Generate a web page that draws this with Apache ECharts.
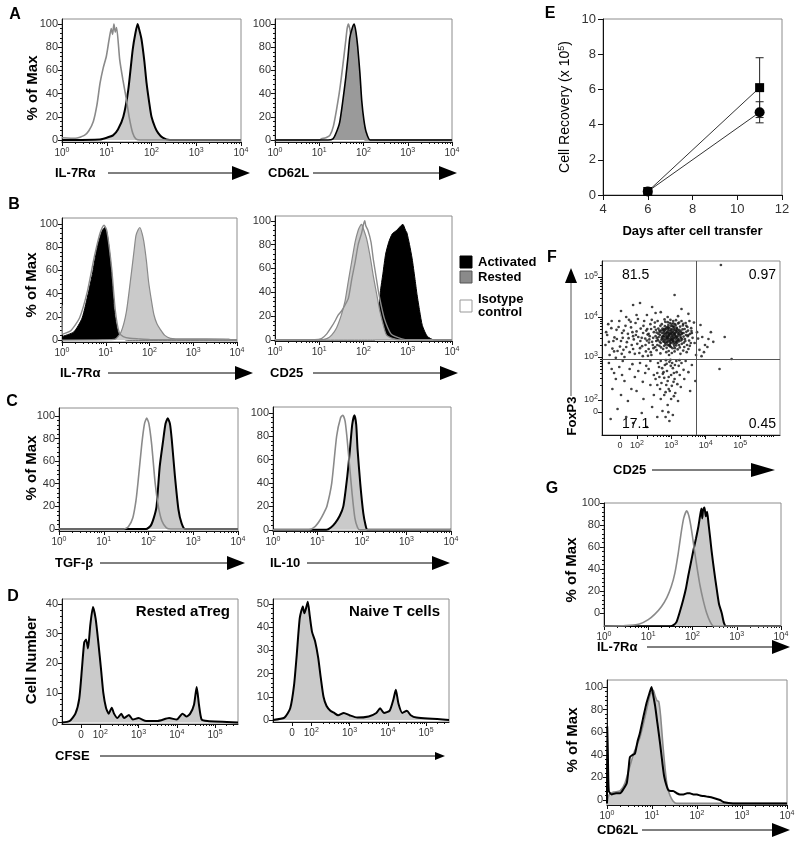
<!DOCTYPE html>
<html><head><meta charset="utf-8">
<script src="https://cdn.jsdelivr.net/npm/echarts@6/dist/echarts.min.js"></script>
<style>html,body{margin:0;padding:0;background:#fff}#c{width:800px;height:848px}</style>
</head><body><div id="c"></div>
<script>
// ================= DATA =================
// histogram x values are log10 of fluorescence (decades), y is % of Max
const histXTickVals = [0, 1, 2, 3, 4];
const histXTickText = ['10^0', '10^1', '10^2', '10^3', '10^4'];
const pctTickVals = [0, 20, 40, 60, 80, 100];

// Panel A
const A_IL7R_gray = [[0,2],[0.3,1.5],[0.5,4],[0.6,8],[0.7,16],[0.78,30],[0.85,49],[0.92,62],[0.99,72],[1.05,86],[1.1,96],[1.13,91],[1.16,100],[1.19,93],[1.22,97],[1.29,69],[1.36,52],[1.43,37],[1.5,20],[1.58,6],[1.65,1],[1.75,0],[4,0]];
const A_IL7R_black = [[0,0],[0.85,0.5],[1.0,2],[1.14,4],[1.25,9],[1.37,20],[1.48,43],[1.58,78],[1.64,92],[1.69,100],[1.74,93],[1.78,86],[1.84,68],[1.89,49],[1.95,32],[2.0,20],[2.08,11],[2.15,6],[2.25,2],[2.41,0],[4,0]];
const A_CD62L_gray = [[0,0],[1.0,0],[1.05,1],[1.15,2],[1.24,4],[1.32,12],[1.39,26],[1.45,40],[1.5,54],[1.56,73],[1.6,86],[1.63,96],[1.66,100],[1.69,96],[1.71,91],[1.76,80],[1.81,63],[1.86,44],[1.9,26],[1.96,7],[2.04,0],[4,0]];
const A_CD62L_fill = [[0,0],[1.2,0],[1.31,1],[1.38,6],[1.46,15],[1.53,33],[1.6,54],[1.65,72],[1.69,88],[1.75,97],[1.79,100],[1.83,93],[1.87,80],[1.92,57],[1.96,34],[2.01,17],[2.06,7],[2.15,0],[4,0]];

// Panel B
const B_IL7R_act = [[0,3],[0.27,7],[0.46,19],[0.61,42],[0.7,58],[0.76,71],[0.82,82],[0.88,90],[0.93,95],[0.98,97],[1.03,92],[1.08,78],[1.13,59],[1.2,24],[1.28,7],[1.39,1],[1.5,0],[4,0]];
const B_IL7R_iso = [[0,30],[0.01,5],[0.2,8],[0.4,19],[0.58,42],[0.74,72],[0.86,91],[0.92,97],[0.96,99],[1.02,95],[1.08,80],[1.14,60],[1.22,25],[1.31,6],[1.4,3],[1.55,1.5],[1.75,1],[2,0.5],[4,0]];
const B_IL7R_rest = [[0,0],[1.2,0.5],[1.35,7],[1.47,24],[1.58,56],[1.65,78],[1.69,90],[1.74,95],[1.78,97],[1.83,92],[1.87,85],[1.93,68],[1.98,50],[2.04,35],[2.1,22],[2.17,14],[2.25,9],[2.35,4],[2.48,1.5],[2.8,1],[3.3,1],[3.81,0.8],[3.9,0],[4,0]];
const B_CD25_act = [[0,0],[2.25,0],[2.3,6],[2.35,25],[2.38,40],[2.44,56],[2.5,72],[2.57,82],[2.65,89],[2.75,92],[2.85,96],[2.89,97],[2.95,92],[2.98,90],[3.04,80],[3.1,68],[3.16,52],[3.21,38],[3.27,24],[3.33,12],[3.44,3],[3.59,0],[4,0]];
const B_CD25_rest = [[0,0],[1.05,0],[1.17,1],[1.28,4],[1.39,10],[1.5,21],[1.58,32],[1.66,50],[1.73,65],[1.81,82],[1.88,92],[1.93,96],[1.96,97],[2.0,93],[2.07,85],[2.15,70],[2.22,54],[2.3,38],[2.37,24],[2.45,12],[2.52,4],[2.67,1],[2.8,0],[4,0]];
const B_CD25_iso = [[0,0],[0.9,0],[1.05,1],[1.17,5],[1.28,11],[1.36,16],[1.43,21],[1.5,24],[1.58,29],[1.66,35],[1.74,52],[1.81,65],[1.88,80],[1.96,90],[2.0,97],[2.03,100],[2.05,96],[2.1,92],[2.17,82],[2.22,68],[2.28,54],[2.34,40],[2.4,29],[2.47,18],[2.55,10],[2.62,5],[2.7,3],[2.85,1],[3.0,0],[4,0]];
const B_legend = ['Activated', 'Rested', 'Isotype\ncontrol'];

// Panel C
const C_TGFb_gray = [[0,0],[1.45,0],[1.55,2],[1.65,10],[1.72,25],[1.77,43],[1.85,75],[1.91,93],[1.96,98],[2.01,93],[2.07,75],[2.15,40],[2.22,20],[2.3,7],[2.4,1],[2.5,0],[4,0]];
const C_TGFb_black = [[0,0],[1.95,0],[2.05,3],[2.12,10],[2.18,20],[2.25,55],[2.33,79],[2.38,93],[2.43,98],[2.48,93],[2.52,79],[2.59,47],[2.67,17],[2.74,5],[2.82,0],[4,0]];
const C_IL10_gray = [[0,0],[0.8,0],[0.95,3],[1.05,8],[1.15,15],[1.21,20],[1.32,40],[1.43,80],[1.52,96],[1.57,98],[1.62,93],[1.66,80],[1.72,55],[1.78,30],[1.84,10],[1.9,2],[1.95,0],[4,0]];
const C_IL10_black = [[0,0],[1.2,0],[1.3,2],[1.4,6],[1.5,12],[1.58,20],[1.67,46],[1.73,69],[1.78,90],[1.83,98],[1.87,90],[1.9,69],[1.96,40],[2.03,14],[2.08,4],[2.12,0],[4,0]];

// Panel D (CFSE, biexponential display units: 10^n -> n)
const D_xTickVals = [1.5, 2, 3, 4, 5];
const D_xTickText = ['0', '10^2', '10^3', '10^4', '10^5'];
const D_titles = ['Rested aTreg', 'Naive T cells'];
const D_aTreg = [[1.0,0],[1.2,0.5],[1.35,3],[1.45,8],[1.52,18],[1.58,27],[1.63,28],[1.68,25],[1.74,33],[1.81,39],[1.88,35],[1.95,27],[2.02,18],[2.08,10],[2.15,5],[2.22,3],[2.3,5],[2.36,3],[2.45,1.5],[2.55,3],[2.62,1.5],[2.75,2.5],[2.85,1],[3.0,1.5],[3.2,0.5],[3.5,0.5],[3.8,1.5],[4.0,1],[4.15,3],[4.25,2],[4.35,3],[4.45,6],[4.52,12],[4.58,6],[4.65,1],[4.8,0.5],[5.6,0]];
const D_naive = [[1.0,0],[1.3,1],[1.45,5],[1.55,15],[1.62,28],[1.7,44],[1.78,49],[1.82,46],[1.86,48],[1.91,51],[1.96,45],[2.02,38],[2.1,34],[2.18,27],[2.25,18],[2.32,10],[2.4,6],[2.5,4],[2.6,3],[2.7,2],[2.85,3],[3.0,2],[3.2,1],[3.5,1.5],[3.7,3],[3.8,5],[3.9,3],[4.05,4],[4.15,9],[4.21,13],[4.28,7],[4.38,3],[4.5,4],[4.6,2],[4.75,1],[5.6,0]];

// Panel E
const E_days = [6, 11];
const E_square = [0.2, 6.1];
const E_squareErr = [0, 1.7];
const E_circle = [0.2, 4.7];
const E_circleErr = [0, 0.6];

// Panel F (biexponential display units)
const F_xTickVals = [1.52, 2.01, 3, 4, 5];
const F_yTickVals = [1.63, 1.93, 3, 4, 5];
const F_tickText = ['0', '10^2', '10^3', '10^4', '10^5'];
const F_gateX = 3.72;
const F_gateY = 2.95;
const F_quadrants = ['81.5', '0.97', '17.1', '0.45'];
const F_points = [
[2.95,3.52],[3.02,3.61],[2.88,3.44],[3.11,3.55],[2.79,3.58],[2.91,3.69],[3.05,3.38],[2.84,3.31],[3.18,3.47],[2.97,3.27],[3.09,3.74],[2.73,3.49],[3.24,3.62],[2.66,3.66],[3.01,3.83],[2.93,3.15],[3.15,3.29],[2.82,3.77],[3.28,3.41],[2.71,3.24],
[2.99,3.46],[3.07,3.66],[2.86,3.53],[3.13,3.79],[2.77,3.39],[3.21,3.53],[2.9,3.61],[3.04,3.22],[2.68,3.55],[3.33,3.69],[2.95,3.72],[3.16,3.4],[2.81,3.66],[3.08,3.48],[2.62,3.42],[3.36,3.51],[2.89,3.36],[3.0,3.57],[2.75,3.71],[3.19,3.67],
[3.03,3.44],[2.92,3.8],[3.12,3.34],[2.85,3.47],[3.26,3.76],[2.7,3.35],[3.1,3.58],[2.96,3.4],[3.4,3.45],[2.58,3.61],[2.83,3.88],[3.23,3.3],[2.94,3.29],[3.06,3.9],[2.74,3.6],[3.31,3.58],[2.87,3.23],[3.14,3.64],[2.64,3.5],[3.44,3.63],
[2.98,3.65],[3.17,3.71],[2.8,3.51],[3.0,3.35],[2.69,3.78],[3.29,3.47],[2.91,3.49],[3.09,3.28],[2.78,3.45],[3.37,3.36],[2.6,3.3],[3.2,3.84],[2.86,3.72],[3.05,3.51],[2.72,3.43],[3.48,3.52],[2.93,3.59],[3.13,3.45],[2.55,3.52],[3.34,3.79],
[3.02,3.7],[2.9,3.3],[3.22,3.39],[2.76,3.67],[3.07,3.6],[2.96,3.85],[3.15,3.52],[2.63,3.71],[3.39,3.7],[2.84,3.57],[3.11,3.22],[2.67,3.62],[3.27,3.55],[2.99,3.25],[3.52,3.41],[2.8,3.28],[3.04,3.77],[2.57,3.4],[3.25,3.24],[2.92,3.74],
[3.55,3.58],[3.46,3.3],[3.58,3.72],[3.42,3.85],[3.5,3.2],[3.62,3.48],[3.35,3.16],[3.6,3.6],[3.47,3.75],[3.3,3.9],[2.52,3.75],[2.48,3.48],[2.54,3.25],[2.5,3.62],[2.45,3.38],
[2.94,3.55],[3.06,3.45],[2.88,3.63],[3.12,3.6],[3.0,3.68],[2.82,3.42],[3.16,3.5],[2.97,3.36],[3.09,3.7],[2.85,3.6],[3.2,3.58],[2.9,3.47],[3.03,3.54],[2.78,3.52],[3.14,3.38],[2.99,3.78],[3.24,3.68],[2.87,3.38],[3.07,3.33],[2.93,3.66],
[3.01,3.49],[2.8,3.7],[3.18,3.62],[2.96,3.31],[3.11,3.82],[2.74,3.46],[3.27,3.5],[2.89,3.75],[3.04,3.41],[3.22,3.44],[2.91,3.54],[3.13,3.67],[2.83,3.35],[3.08,3.56],[2.98,3.6],[3.17,3.35],[2.79,3.63],[3.32,3.6],[2.95,3.44],[3.06,3.76],
[2.35,3.58],[2.42,3.7],[2.47,3.3],[2.53,3.86],[2.58,3.17],[2.61,3.9],[2.66,3.28],[2.69,3.09],[2.73,3.82],[2.77,3.2],[2.81,3.94],[2.86,3.12],[2.9,3.87],[2.94,3.05],[2.98,3.93],[3.02,3.1],[3.06,3.84],[3.1,3.14],[3.14,3.92],[3.19,3.19],
[3.23,3.86],[3.27,3.08],[3.31,3.33],[3.35,3.83],[3.38,3.25],[3.43,3.55],[3.45,3.12],[3.49,3.66],[3.53,3.9],[3.57,3.35],[2.37,3.44],[2.41,3.12],[2.44,3.93],[2.49,3.22],[2.56,3.68],[2.59,3.47],[2.63,3.58],[2.67,3.38],[2.71,3.66],[2.76,3.52],
[2.8,3.38],[2.84,3.69],[2.88,3.5],[2.92,3.4],[2.96,3.58],[3.0,3.42],[3.04,3.63],[3.08,3.39],[3.12,3.5],[3.16,3.73],[3.2,3.42],[3.24,3.57],[3.28,3.64],[3.32,3.44],[3.36,3.6],[3.41,3.4],[3.44,3.78],[3.5,3.55],[3.54,3.28],[3.59,3.65],
[1.15,3.55],[1.3,3.21],[1.42,3.68],[1.55,3.4],[1.68,3.78],[1.8,3.12],[1.9,3.52],[2.02,3.33],[2.12,3.71],[2.25,3.46],[2.35,3.2],[2.4,3.82],[1.22,3.05],[1.36,3.49],[1.5,3.9],[1.62,3.18],[1.75,3.58],[1.86,3.3],[1.97,3.85],[2.08,3.1],
[2.19,3.6],[2.3,3.41],[2.43,3.05],[1.1,3.3],[1.27,3.72],[1.45,3.15],[1.58,3.6],[1.72,3.37],[1.84,3.74],[1.95,3.08],[2.05,3.5],[2.16,3.27],[2.28,3.66],[2.38,3.52],[1.18,3.82],[1.33,3.4],[1.65,3.0],[1.78,3.93],[2.0,3.64],[2.22,3.9],
[2.33,3.03],[1.4,2.98],[1.92,3.44],[2.11,3.4],[2.27,3.14],[1.52,3.26],[1.6,3.48],[2.18,3.02],[2.32,3.56],[1.88,3.62],
[1.12,3.62],[1.2,3.38],[1.28,3.9],[1.35,3.14],[1.43,3.45],[1.48,3.75],[1.57,3.08],[1.63,3.66],[1.7,3.25],[1.77,3.47],[1.83,3.88],[1.9,3.2],[1.98,3.55],[2.04,3.95],[2.1,3.22],[2.15,3.48],[2.2,3.78],[2.26,3.3],[2.31,3.7],[2.36,3.36],
[3.68,3.35],[3.75,3.62],[3.82,3.18],[3.9,3.5],[3.98,3.3],[4.08,3.45],[3.72,3.05],[3.85,3.8],[4.15,3.62],[3.95,3.12],[3.66,3.86],[4.05,3.25],[3.78,3.46],[4.22,3.38],[3.88,3.02],
[2.7,2.9],[2.82,2.8],[2.95,2.88],[3.05,2.72],[3.15,2.9],[2.88,2.65],[3.0,2.55],[2.76,2.58],[3.1,2.45],[2.9,2.4],[3.22,2.78],[2.65,2.75],[2.98,2.93],[3.3,2.85],[2.8,2.48],[3.08,2.6],[2.72,2.35],[3.18,2.32],[2.93,2.2],[3.25,2.55],
[2.6,2.6],[2.85,2.92],[3.03,2.85],[3.36,2.68],[2.68,2.2],[3.12,2.1],[2.8,2.05],[3.0,1.95],[2.9,1.8],[3.2,1.9],[2.75,1.65],[3.05,1.55],[2.95,1.4],[3.28,2.25],[2.55,2.45],[3.42,2.9],[3.5,2.62],[3.6,2.8],[3.7,2.4],[3.55,2.15],
[2.62,2.85],[2.74,2.72],[2.87,2.83],[2.99,2.78],[3.11,2.8],[3.24,2.92],[2.78,2.62],[2.93,2.5],[3.07,2.38],[2.66,2.5],[3.16,2.62],[2.84,2.12],[3.08,2.02],[2.6,2.3],[3.38,2.45],
[1.2,2.85],[1.35,2.6],[1.5,2.75],[1.65,2.4],[1.8,2.7],[1.95,2.5],[2.1,2.85],[2.25,2.6],[2.4,2.3],[1.3,2.2],[1.55,2.05],[1.75,1.9],[2.0,2.15],[2.2,1.95],[2.35,2.7],[1.45,1.7],[1.7,1.5],[1.9,1.35],[2.15,1.6],[2.45,1.75],
[2.5,2.05],[1.25,1.45],[2.6,1.5],[2.3,1.25],[1.6,2.9],[1.85,2.2],[2.05,2.65],[2.4,2.9],[1.4,2.45],[2.5,2.55],[2.86,2.3],[2.96,2.15],[3.02,2.28],[2.7,1.95],[2.92,1.62],[2.84,1.5],
[1.28,2.7],[1.58,2.55],[1.88,2.82],[2.18,2.38],[2.28,2.78],
[2.3,4.05],[2.7,4.12],[2.9,4.0],[3.2,4.02],[2.45,4.25],[1.7,4.0],[3.5,4.08],[2.1,4.35],
[1.9,4.3],[3.1,4.55],[2.55,4.1],[4.44,5.3],[2.0,4.05],[3.3,4.2],[1.55,4.15],[4.4,2.7],[4.55,3.5],[4.75,2.95]
];

// Panel G
const G_IL7R_gray = [[0,-12],[0.5,-11.5],[0.8,-10],[1.0,-6],[1.15,-1],[1.3,6],[1.42,14],[1.52,24],[1.6,36],[1.68,55],[1.74,72],[1.8,86],[1.87,93],[1.92,88],[1.98,75],[2.04,58],[2.1,42],[2.17,25],[2.24,12],[2.32,0],[2.4,-8],[2.48,-12],[4,-12]];
const G_IL7R_black = [[0,-12],[1.5,-12],[1.57,-11],[1.64,-8],[1.72,2],[1.79,12],[1.85,22],[1.9,33],[1.96,45],[2.02,57],[2.08,68],[2.13,78],[2.17,88],[2.2,95],[2.22,86],[2.24,94],[2.27,96],[2.3,88],[2.33,92],[2.36,82],[2.4,68],[2.43,57],[2.49,38],[2.55,21],[2.6,8],[2.66,0],[2.71,-9],[2.76,-12],[4,-12]];
const G_CD62L_black = [[0,-3],[0.005,65],[0.02,40],[0.04,8],[0.1,5],[0.2,6],[0.29,6],[0.37,10],[0.44,15],[0.48,28],[0.51,38],[0.57,40],[0.62,41],[0.68,52],[0.73,59],[0.8,72],[0.88,86],[0.94,94],[0.99,100],[1.03,92],[1.07,83],[1.12,68],[1.18,50],[1.23,33],[1.27,21],[1.32,13],[1.36,9],[1.42,8],[1.47,8],[1.55,6],[1.62,5],[1.7,5],[1.78,6],[1.84,6],[1.92,5],[2.0,5],[2.07,4],[2.15,3.5],[2.22,3],[2.35,2],[2.51,0],[2.6,-2],[2.8,-3],[4,-3]];
const G_CD62L_gray = [[0,-3],[0.05,5],[0.15,7],[0.29,8],[0.4,15],[0.51,30],[0.6,42],[0.66,48],[0.73,55],[0.8,66],[0.88,80],[0.95,92],[1.0,96],[1.03,97],[1.07,92],[1.11,88],[1.15,87],[1.19,75],[1.24,50],[1.29,28],[1.34,12],[1.4,4],[1.47,-1],[1.55,-3],[4,-3]];

// ================= BUILD =================
const FONT = "'Liberation Sans', Arial, Helvetica, sans-serif";
const INK = '#111';
const GRAYLINE = '#8a8a8a';
const LIGHTFILL = '#cacaca';

function rt(t) { const m = /^(\d+)\^(\d+)$/.exec(t); return m ? m[1] + '{s|' + m[2] + '}' : t; }
function minorLog(lo, hi) {
  const a = [];
  for (let n = Math.floor(lo); n < hi; n++) for (let k = 2; k < 10; k++) { const v = n + Math.log10(k); if (v > lo && v < hi) a.push(v); }
  return a;
}
function steps(a, b, s) { const r = []; for (let v = a; v <= b + 1e-9; v += s) r.push(+v.toFixed(4)); return r; }

const grids = [], xAxes = [], yAxes = [], series = [], graphic = [];

function fmtFrom(vals, texts) {
  return v => { const i = vals.findIndex(u => Math.abs(u - v) < 1e-6); return i < 0 ? '' : rt(texts[i]); };
}
const supRich = (fs, col) => ({ s: { fontSize: fs, lineHeight: 6, verticalAlign: 'top', fontFamily: FONT, color: col } });

function addGrid(g) {
  const gi = grids.length;
  grids.push({ left: g.l, top: g.t, width: g.w, height: g.h, show: true, borderColor: '#8c8c8c', borderWidth: 1, backgroundColor: 'transparent' });
  const xi = xAxes.length, yi = yAxes.length;
  const lab = { fontFamily: FONT, color: '#333' };
  xAxes.push({ type: 'value', gridIndex: gi, position: 'bottom', min: g.x0, max: g.x1,
    axisLine: { onZero: false, lineStyle: { color: INK, width: 1 } },
    axisTick: { length: 4, customValues: g.xv, lineStyle: { color: INK } },
    axisLabel: Object.assign({ customValues: g.xv, formatter: fmtFrom(g.xv, g.xt), fontSize: g.xfs || 10, margin: g.xm || 5, lineHeight: 12, rich: supRich(7, '#333') }, lab),
    splitLine: { show: false } });
  xAxes.push({ type: 'value', gridIndex: gi, position: 'bottom', min: g.x0, max: g.x1,
    axisLine: { show: false, onZero: false }, axisTick: { length: 2, customValues: g.xminor, lineStyle: { color: INK } },
    axisLabel: { show: false }, splitLine: { show: false } });
  yAxes.push({ type: 'value', gridIndex: gi, position: 'left', min: g.y0, max: g.y1,
    axisLine: { onZero: false, lineStyle: { color: INK, width: 1 } },
    axisTick: { length: 4, customValues: g.yv, lineStyle: { color: INK } },
    axisLabel: Object.assign({ customValues: g.yv, formatter: g.yt ? fmtFrom(g.yv, g.yt) : (v => String(v)), fontSize: g.yfs || 11, margin: 4, lineHeight: 12, rich: supRich(7, '#333') }, lab),
    splitLine: { show: false } });
  yAxes.push({ type: 'value', gridIndex: gi, position: 'left', min: g.y0, max: g.y1,
    axisLine: { show: false, onZero: false }, axisTick: { length: 2, customValues: g.yminor, lineStyle: { color: INK } },
    axisLabel: { show: false }, splitLine: { show: false } });
  return { xi, yi };
}

function hist(g) {
  const ax = addGrid(Object.assign({ x0: 0, x1: 4, xv: histXTickVals, xt: histXTickText, xminor: minorLog(0, 4) }, g));
  g.series.forEach((s, k) => {
    const o = { type: 'line', xAxisIndex: ax.xi, yAxisIndex: ax.yi, data: s.d, smooth: 0.2, symbol: 'none',
      lineStyle: { color: s.c, width: s.w || 1.5 }, z: 2 + k, silent: true, animation: false };
    if (s.f) o.areaStyle = { color: s.f, opacity: 1, origin: g.origin || 'auto' };
    series.push(o);
  });
}

const pctMinor = steps(0, 100, 4);

// A
hist({ l: 62, t: 19, w: 179, h: 123, y0: -1.7, y1: 104.3, yv: pctTickVals, yminor: pctMinor, series: [
  { d: A_IL7R_black, c: '#000', w: 2, f: LIGHTFILL }, { d: A_IL7R_gray, c: GRAYLINE, w: 1.6 } ] });
hist({ l: 275, t: 19, w: 177, h: 123, y0: -1.7, y1: 104.3, yv: pctTickVals, yminor: pctMinor, series: [
  { d: A_CD62L_gray, c: GRAYLINE, w: 1.6 }, { d: A_CD62L_fill, c: '#000', w: 1.6, f: '#9a9a9a' } ] });
// B
hist({ l: 62, t: 218, w: 175, h: 124, y0: -1.7, y1: 105.2, yv: pctTickVals, yminor: pctMinor, series: [
  { d: B_IL7R_act, c: '#000', w: 1, f: '#000' }, { d: B_IL7R_rest, c: GRAYLINE, w: 1.2, f: LIGHTFILL }, { d: B_IL7R_iso, c: GRAYLINE, w: 1.4 } ] });
hist({ l: 275, t: 216, w: 177, h: 125, y0: -1, y1: 104, yv: pctTickVals, yminor: pctMinor, series: [
  { d: B_CD25_act, c: '#000', w: 1, f: '#000' }, { d: B_CD25_rest, c: GRAYLINE, w: 1.2, f: LIGHTFILL }, { d: B_CD25_iso, c: GRAYLINE, w: 1.4 } ] });
// C
hist({ l: 59, t: 408, w: 179, h: 123, y0: -1.8, y1: 107, yv: pctTickVals, yminor: pctMinor, series: [
  { d: C_TGFb_black, c: '#000', w: 2, f: LIGHTFILL }, { d: C_TGFb_gray, c: GRAYLINE, w: 1.6 } ] });
hist({ l: 273, t: 407, w: 178, h: 124, y0: -1, y1: 105, yv: pctTickVals, yminor: pctMinor, series: [
  { d: C_IL10_black, c: '#000', w: 2, f: LIGHTFILL }, { d: C_IL10_gray, c: GRAYLINE, w: 1.6 } ] });
// D
hist({ l: 62, t: 599, w: 176, h: 125, x0: 1.0, x1: 5.6, xv: D_xTickVals, xt: D_xTickText, xminor: minorLog(2, 5.6),
  y0: -0.5, y1: 41.7, yv: [0, 10, 20, 30, 40], yminor: steps(0, 40, 2), series: [
  { d: D_aTreg, c: '#000', w: 2, f: LIGHTFILL } ] });
hist({ l: 273, t: 599, w: 176, h: 123, x0: 1.0, x1: 5.6, xv: D_xTickVals, xt: D_xTickText, xminor: minorLog(2, 5.6),
  y0: -0.9, y1: 52.2, yv: [0, 10, 20, 30, 40, 50], yminor: steps(0, 50, 2), series: [
  { d: D_naive, c: '#000', w: 2, f: LIGHTFILL } ] });
// G
hist({ l: 604, t: 503, w: 177, h: 123, y0: -11.8, y1: 100, origin: 'start', yv: pctTickVals, yminor: pctMinor, series: [
  { d: G_IL7R_black, c: '#000', w: 2, f: LIGHTFILL }, { d: G_IL7R_gray, c: GRAYLINE, w: 1.6 } ] });
hist({ l: 607, t: 680, w: 180, h: 125, y0: -4.4, y1: 106.2, origin: 'start', yv: pctTickVals, yminor: pctMinor, series: [
  { d: G_CD62L_gray, c: GRAYLINE, w: 1.6, f: LIGHTFILL }, { d: G_CD62L_black, c: '#000', w: 2 } ] });

// E
(function () {
  const gi = grids.length;
  grids.push({ left: 603, top: 19, width: 179, height: 176, show: true, borderColor: '#8c8c8c', borderWidth: 1 });
  const xi = xAxes.length, yi = yAxes.length;
  xAxes.push({ type: 'value', gridIndex: gi, position: 'bottom', min: 4, max: 12, interval: 2,
    axisLine: { onZero: false, lineStyle: { color: INK } }, axisTick: { length: 5, lineStyle: { color: INK } },
    axisLabel: { fontSize: 13, color: '#333', fontFamily: FONT, margin: 8 }, splitLine: { show: false },
    name: 'Days after cell transfer', nameLocation: 'middle', nameGap: 30,
    nameTextStyle: { fontSize: 13, fontWeight: 'bold', color: '#000', fontFamily: FONT } });
  yAxes.push({ type: 'value', gridIndex: gi, position: 'left', min: 0, max: 10, interval: 2,
    axisLine: { onZero: false, lineStyle: { color: INK } }, axisTick: { length: 5, lineStyle: { color: INK } },
    axisLabel: { fontSize: 13, color: '#333', fontFamily: FONT, margin: 7 }, splitLine: { show: false },
    name: 'Cell Recovery (x 10{s|5})', nameLocation: 'middle', nameGap: 30, nameRotate: 90,
    nameTextStyle: { fontSize: 14, color: '#000', fontFamily: FONT, lineHeight: 16,
      rich: { s: { fontSize: 9, lineHeight: 8, verticalAlign: 'top', fontFamily: FONT, color: '#000' } } } });
  const mk = (vals, sym, size, name) => ({ type: 'line', name, xAxisIndex: xi, yAxisIndex: yi, data: E_days.map((d, i) => [d, vals[i]]),
    symbol: sym, symbolSize: size, showSymbol: true, itemStyle: { color: '#000' }, lineStyle: { color: '#333', width: 1 }, z: 5, animation: false });
  const err = (vals, errs) => ({ type: 'custom', xAxisIndex: xi, yAxisIndex: yi, z: 4, animation: false,
    data: E_days.map((d, i) => [d, vals[i] - errs[i], vals[i] + errs[i]]).filter((r, i) => errs[i] > 0),
    renderItem: (p, api) => {
      const lo = api.coord([api.value(0), api.value(1)]), hi = api.coord([api.value(0), api.value(2)]);
      const st = { stroke: '#222', lineWidth: 1 };
      return { type: 'group', children: [
        { type: 'line', shape: { x1: lo[0], y1: lo[1], x2: hi[0], y2: hi[1] }, style: st },
        { type: 'line', shape: { x1: lo[0] - 4, y1: lo[1], x2: lo[0] + 4, y2: lo[1] }, style: st },
        { type: 'line', shape: { x1: hi[0] - 4, y1: hi[1], x2: hi[0] + 4, y2: hi[1] }, style: st } ] };
    } });
  series.push(err(E_square, E_squareErr), err(E_circle, E_circleErr), mk(E_circle, 'circle', 10, 'circle'), mk(E_square, 'rect', 9, 'square'));
})();

// F
(function () {
  const ax = addGrid({ l: 602, t: 261, w: 178, h: 174, x0: 1.0, x1: 6.15, y0: 1.05, y1: 5.4,
    xv: F_xTickVals, xt: F_tickText, xminor: minorLog(2, 6.15), yv: F_yTickVals, yt: F_tickText, yminor: minorLog(2, 5.4), yfs: 9, xfs: 9 });
  series.push({ type: 'scatter', xAxisIndex: ax.xi, yAxisIndex: ax.yi, data: F_points, symbolSize: 2.7,
    itemStyle: { color: '#111', opacity: 0.8 }, silent: true, animation: false, z: 3,
    markLine: { silent: true, symbol: 'none', animation: false, label: { show: false },
      lineStyle: { color: '#555', width: 1, type: 'solid' }, data: [{ xAxis: F_gateX }, { yAxis: F_gateY }] } });
})();

// ---------- text & decorations ----------
function txt(x, y, t, o) {
  graphic.push(Object.assign({ type: 'text', x, y, z: 50, silent: true, style: Object.assign({ text: t, fontFamily: FONT, fontSize: 13, fontWeight: 'bold', fill: '#000', align: 'left', verticalAlign: 'middle' }, o || {}) }));
}
function arrowH(x1, x2, y, hl, hh) {
  hl = hl || 18; hh = hh || 7;
  graphic.push({ type: 'line', z: 50, silent: true, shape: { x1, y1: y, x2: x2 - hl + 1, y2: y }, style: { stroke: '#000', lineWidth: 1 } });
  graphic.push({ type: 'polygon', z: 50, silent: true, shape: { points: [[x2 - hl, y - hh], [x2, y], [x2 - hl, y + hh]] }, style: { fill: '#000' } });
}
function vlabel(x, y, t, fs) {
  graphic.push({ type: 'text', x, y, rotation: Math.PI / 2, z: 50, silent: true,
    style: { text: t, fontFamily: FONT, fontSize: fs || 15, fontWeight: 'bold', fill: '#000', align: 'center', verticalAlign: 'middle' } });
}

// panel letters
[['A', 15, 15], ['B', 14, 205], ['C', 12, 402], ['D', 13, 597], ['E', 550, 14], ['F', 552, 258], ['G', 552, 489]].forEach(l =>
  txt(l[1], l[2], l[0], { fontSize: 16, align: 'center' }));

// y titles
vlabel(33, 88, '% of Max'); vlabel(32, 285, '% of Max'); vlabel(32, 468, '% of Max');
vlabel(32, 660, 'Cell Number'); vlabel(572, 570, '% of Max'); vlabel(573, 740, '% of Max');

// x titles with arrows
txt(55, 173, 'IL-7R\u03b1'); arrowH(108, 250, 173);
txt(268, 173, 'CD62L'); arrowH(313, 457, 173);
txt(60, 373, 'IL-7R\u03b1'); arrowH(108, 253, 373);
txt(270, 373, 'CD25'); arrowH(313, 458, 373);
txt(55, 563, 'TGF-\u03b2'); arrowH(100, 245, 563);
txt(270, 563, 'IL-10'); arrowH(307, 450, 563);
txt(55, 756, 'CFSE'); arrowH(100, 445, 756, 10, 4);
txt(597, 647, 'IL-7R\u03b1'); arrowH(647, 790, 647);
txt(597, 830, 'CD62L'); arrowH(642, 790, 830);

// D titles
txt(230, 612, D_titles[0], { fontSize: 15, align: 'right' });
txt(440, 612, D_titles[1], { fontSize: 15, align: 'right' });

// B legend
const legFill = ['#000', '#8a8a8a', '#fff'];
const legStroke = ['#000', '#555', '#999'];
const legY = [262, 277, 306];
B_legend.forEach((t, i) => {
  graphic.push({ type: 'rect', z: 50, silent: true, shape: { x: 460, y: legY[i] - 6, width: 12, height: 12 }, style: { fill: legFill[i], stroke: legStroke[i], lineWidth: 1 } });
  txt(478, legY[i], t, { fontSize: 13, lineHeight: 13 });
});

// F texts and axis arrows
txt(622, 275, F_quadrants[0], { fontSize: 14, fontWeight: 'normal' });
txt(776, 275, F_quadrants[1], { fontSize: 14, fontWeight: 'normal', align: 'right' });
txt(622, 424, F_quadrants[2], { fontSize: 14, fontWeight: 'normal' });
txt(776, 424, F_quadrants[3], { fontSize: 14, fontWeight: 'normal', align: 'right' });
txt(613, 470, 'CD25'); arrowH(652, 775, 470, 24, 7);
vlabel(572, 416, 'FoxP3', 13);
graphic.push({ type: 'line', z: 50, silent: true, shape: { x1: 571, y1: 396, x2: 571, y2: 282 }, style: { stroke: '#555', lineWidth: 1 } });
graphic.push({ type: 'polygon', z: 50, silent: true, shape: { points: [[565, 283], [571, 268], [577, 283]] }, style: { fill: '#000' } });

const chart = echarts.init(document.getElementById('c'), null, { renderer: 'canvas' });
chart.setOption({ animation: false, backgroundColor: '#fff', grid: grids, xAxis: xAxes, yAxis: yAxes, series, graphic });
</script></body></html>
